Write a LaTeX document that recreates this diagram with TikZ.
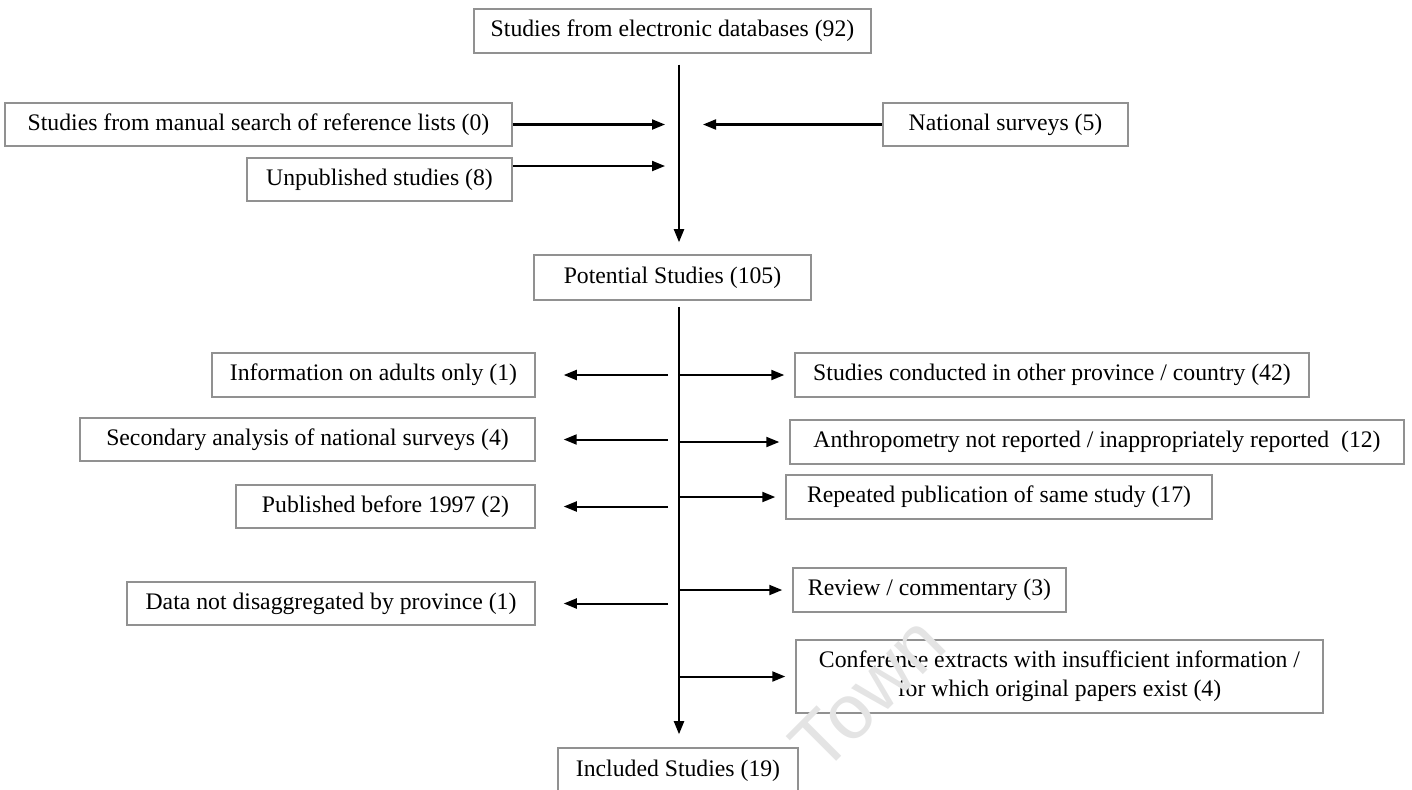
\documentclass[tikz,border=0pt]{standalone}
\usepackage{fontspec}
\setmainfont{Liberation Serif}
\newfontfamily\markfont{Liberation Sans}
\usetikzlibrary{arrows.meta}
\definecolor{boxgray}{RGB}{145,145,145}
\definecolor{markgray}{RGB}{228,228,228}
\tikzset{
  box/.style={draw=boxgray, line width=0.9pt, minimum height=0.87cm, inner sep=2pt,
    font=\fontsize{13.5}{16.5}\selectfont},
  arr/.style={-{Triangle[length=0.26cm,width=0.2cm]}, line width=1.15pt},
}
\begin{document}
\begin{tikzpicture}[x=0.02cm, y=-0.02cm]
  \useasboundingbox (0,0) rectangle (1412,789);

  % sources
  \node[box, minimum width=7.94cm] (db) at (672.5,31) {Studies from electronic databases (92)};
  \node[box, minimum width=10.14cm] (manual) at (258.5,124.5) {Studies from manual search of reference lists (0)};
  \node[box, minimum width=4.9cm] (national) at (1005.5,124.5) {National surveys (5)};
  \node[box, minimum width=5.3cm] (unpub) at (379.5,179.5) {Unpublished studies (8)};
  \node[box, minimum width=5.54cm, minimum height=0.9cm] (potential) at (672.5,277.5) {Potential Studies (105)};

  % excluded, left side
  \node[box, minimum width=6.46cm] (adults) at (373.5,375) {Information on adults only (1)};
  \node[box, minimum width=9.1cm] (secondary) at (307.5,439.5) {Secondary analysis of national surveys (4)};
  \node[box, minimum width=5.98cm] (published) at (385.5,506.5) {Published before 1997 (2)};
  \node[box, minimum width=8.16cm] (data) at (331,603.5) {Data not disaggregated by province (1)};

  % excluded, right side
  \node[box, minimum width=10.28cm] (province) at (1052,375) {Studies conducted in other province / country (42)};
  \node[box, minimum width=12.28cm] (anthro) at (1097,442) {Anthropometry not reported / inappropriately reported\ \ (12)};
  \node[box, minimum width=8.52cm] (repeated) at (999,497) {Repeated publication of same study (17)};
  \node[box, minimum width=5.46cm] (review) at (929.5,590) {Review / commentary (3)};
  \node[box, minimum width=10.54cm, minimum height=1.46cm, align=center] (conference) at (1059.5,676.5)
    {Conference extracts with insufficient information /\\for which original papers exist (4)};

  \node[box, minimum width=4.8cm, minimum height=0.92cm] (included) at (678,771) {Included Studies (19)};

  % main line
  \coordinate (spine) at (679,0);
  \draw[arr, shorten <=0.22cm, shorten >=0.24cm] (db.south -| spine) -- (potential.north -| spine);
  \draw[arr, shorten <=0.12cm, shorten >=0.26cm] (potential.south -| spine) -- (included.north -| spine);

  \draw[arr, shorten >=0.28cm] (manual) -- (manual -| spine);
  \draw[arr, shorten >=0.48cm] (national) -- (national -| spine);
  \draw[arr, shorten >=0.28cm] ([yshift=0.27cm]unpub.east) -- ([yshift=0.27cm]unpub.east -| spine);

  \foreach \n in {adults, secondary, published, data}
    \draw[arr, shorten <=0.22cm, shorten >=0.56cm] (\n -| spine) -- (\n);
  \foreach \n in {province, anthro, repeated, review, conference}
    \draw[arr, shorten >=0.2cm] (\n -| spine) -- (\n);

  % watermark
  \node[text=markgray, rotate=45, font=\markfont\fontsize{44}{44}\selectfont] (mark) at (868,693) {Town};
\end{tikzpicture}
\end{document}
